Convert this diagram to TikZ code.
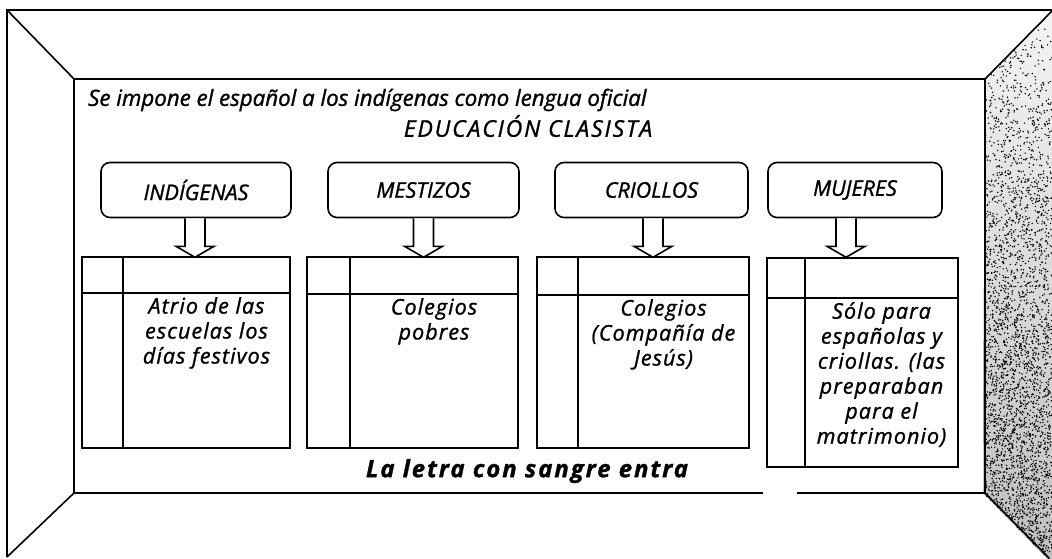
\documentclass[tikz,border=0pt]{standalone}
\usepackage{fontspec}
\setmainfont{Open Sans}
\newfontfamily\medfont{Open Sans}[FakeBold=1.2]
\newfontfamily\widefont{Open Sans}[FakeBold=1.2, LetterSpace=5]
\newfontfamily\widerfont{Open Sans}[FakeBold=1.2, LetterSpace=8]
\usetikzlibrary{calc}
\begin{document}
\begin{tikzpicture}[x=1pt,y=-1pt,
  ln/.style={line width=1.6pt, line join=miter},
  catbox/.style={draw, line width=1.6pt, rounded corners=9pt, minimum height=55pt,
    inner sep=0pt, font=\medfont\itshape\fontsize{21.5}{24}\selectfont},
  celltext/.style={anchor=north, align=center, inner sep=0pt,
    font=\widefont\itshape\fontsize{21.5}{25}\selectfont},
  toptext/.style={inner sep=0pt, font=\medfont\itshape\fontsize{22.3}{24}\selectfont}]
\useasboundingbox (0,0) rectangle (1052,559);

% right stippled wall
\begin{scope}
  \clip (985,79) -- (1052,11) -- (1052,559) -- (1048,559) -- (983,493) -- cycle;
  \fill[top color=gray!8, bottom color=gray!50] (980,5) rectangle (1052,559);
  \pgfmathsetseed{7}
  \foreach \i in {1,...,3500}{
    \pgfmathsetmacro{\px}{985+67*rnd}
    \pgfmathsetmacro{\py}{10+549*pow(rnd,0.6)}
    \fill[black] (\px,\py) circle (0.8);
  }
\end{scope}

% frame
\coordinate (oTL) at (7,10);
\coordinate (oBL) at (7,557);
\coordinate (oTR) at (1052,10);
\coordinate (iTL) at (74,79);
\coordinate (iBL) at (74,493);
\coordinate (iTR) at (985,79);
\coordinate (iBR) at (985,493);
\draw[ln] (oBL) -- (oTL) -- (oTR);
\draw[ln] (oTL) -- (iTL) -- (iTR);
\draw[ln] (1052,11) -- (iTR) -- (iBR) -- (1049,558);
\draw[ln] (iTL) -- (iBL) -- (763,493);
\draw[ln] (797,493) -- (iBR);
\draw[ln] (iBL) -- (oBL);

% texts
\node[toptext, anchor=west] (t0) at (88,100) {Se impone el español a los indígenas como lengua oficial};
\node[toptext, font=\widerfont\itshape\fontsize{23}{26}\selectfont] (ec) at (528,126) {EDUCACIÓN CLASISTA};
\node[toptext, font=\widerfont\bfseries\itshape\fontsize{24}{27}\selectfont] (lema) at (527,471) {La letra con sangre entra};

% category boxes
\node[catbox, minimum width=190pt] (b1) at (196,190) {INDÍGENAS};
\node[catbox, minimum width=191pt] (b2) at (423.5,190) {MESTIZOS};
\node[catbox, minimum width=193pt] (b3) at (651.5,190) {CRIOLLOS};
\node[catbox, minimum width=174pt] (b4) at (855,190) {MUJERES};

% tables: left, divider, right, top, header, bottom
\foreach \n/\L/\D/\R/\T/\H/\B in {1/82/123/290/257/293/448, 2/307/350/518/257/294/448,
   3/537/578/749/257/295/448, 4/767/805/958/258/298/467}{
  \draw[ln] (\L,\T) rectangle (\R,\B);
  \draw[ln] (\L,\H) -- (\R,\H);
  \draw[ln] (\D,\T) -- (\D,\B);
  \coordinate (c\n) at ({(\D+\R)/2},{\H+4});
}
\node[celltext] (x1) at (c1) {Atrio de las\\escuelas los\\días festivos};
\node[celltext] (x2) at (c2) {Colegios\\pobres};
\node[celltext] (x3) at (c3) {Colegios\\(Compañía de\\Jesús)};
\node[celltext] (x4) at (c4) {Sólo para\\españolas y\\criollas. (las\\preparaban\\para el\\matrimonio)};

% hollow arrows
\foreach \b/\dx in {b1/-1, b2/0, b3/1.5, b4/-9}{
  \coordinate (s) at ($(\b.south)+(\dx,0)$);
  \draw[ln, fill=white] ($(s)+(-10,0)$) -- ($(s)+(-10,28)$) -- ($(s)+(-19,28)$)
     -- ($(s)+(0,39)$) -- ($(s)+(19,28)$) -- ($(s)+(10,28)$) -- ($(s)+(10,0)$);
}
\end{tikzpicture}
\end{document}
